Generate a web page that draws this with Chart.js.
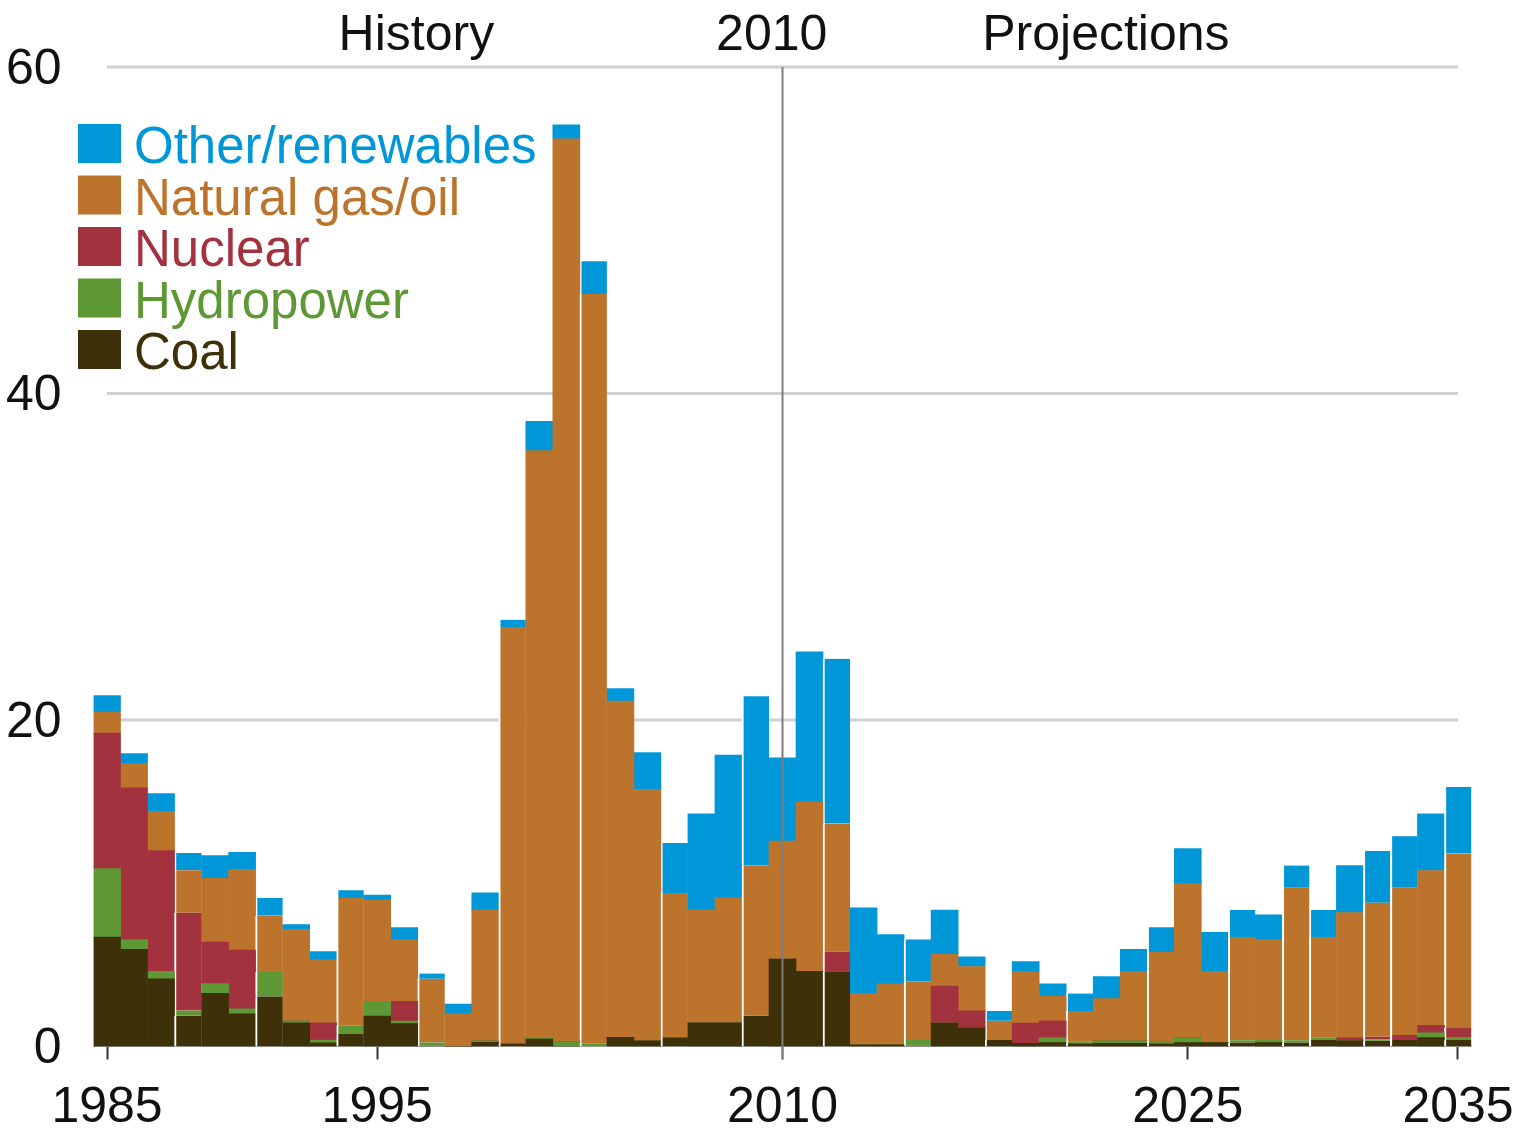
<!DOCTYPE html>
<html>
<head>
<meta charset="utf-8">
<script src="https://cdn.jsdelivr.net/npm/chart.js@4"></script>
<style>
    html, body { margin: 0; padding: 0; background: #fff; }
    #wrap { width: 1517px; height: 1128px; position: relative; }
</style>
</head>
<body>
<div id="wrap"><canvas id="chart"></canvas></div>
<script>
// capacity additions by fuel, 1985-2035 (history + projections)
const years = [];
for (let y = 1985; y <= 2035; y++) years.push(String(y));

const tickYears = ['1985', '1995', '2010', '2025', '2035'];

const coal = [6.7, 5.95, 4.15, 1.9, 3.25, 2.0, 3.07, 1.45, 0.23, 0.8,
    1.87, 1.4, 0.05, 0, 0.25, 0.2, 0.45, 0, 0, 0.56,
    0.35, 0.56, 1.45, 1.45, 1.88, 5.36, 4.61, 4.61, 0.1, 0.1,
    0.05, 1.43, 1.15, 0.4, 0.2, 0.24, 0.2, 0.2, 0.2, 0.2,
    0.24, 0.24, 0.24, 0.24, 0.24, 0.4, 0.35, 0.35, 0.4, 0.54,
    0.4];
const hydro = [4.2, 0.6, 0.45, 0.3, 0.6, 0.3, 1.5, 0.12, 0.17, 0.5,
    0.9, 0.16, 0.2, 0, 0.1, 0, 0.1, 0.3, 0.2, 0,
    0, 0, 0, 0, 0, 0, 0, 0, 0, 0,
    0.35, 0, 0, 0, 0, 0.3, 0.12, 0.14, 0.14, 0.14,
    0.3, 0, 0.14, 0.14, 0.14, 0.14, 0, 0.1, 0, 0.3,
    0.14];
const nuclear = [8.3, 9.3, 7.4, 6.0, 2.55, 3.6, 0, 0, 1.05, 0,
    0, 1.2, 0, 0, 0, 0, 0, 0, 0, 0,
    0, 0, 0, 0, 0, 0, 0, 1.2, 0, 0,
    0, 2.27, 1.03, 0, 1.23, 1.03, 0, 0, 0, 0,
    0, 0, 0, 0, 0, 0, 0.2, 0.15, 0.3, 0.45,
    0.6];
const gasOil = [1.3, 1.5, 2.4, 2.6, 3.9, 4.95, 3.45, 5.6, 3.87, 7.8,
    6.2, 3.8, 3.9, 2.0, 8.0, 25.5, 35.95, 55.3, 45.9, 20.6,
    15.4, 8.84, 6.91, 7.66, 9.2, 7.22, 10.38, 7.85, 3.14, 3.74,
    3.6, 1.95, 2.72, 1.17, 3.16, 1.52, 1.86, 2.59, 4.25, 5.45,
    9.46, 4.35, 6.32, 6.18, 9.34, 6.16, 7.66, 8.21, 9.02, 9.49,
    10.68];
const other = [1.0, 0.6, 1.1, 1.05, 1.4, 1.05, 1.07, 0.3, 0.5, 0.47,
    0.3, 0.73, 0.32, 0.6, 1.06, 0.44, 1.8, 0.85, 2.0, 0.77,
    2.26, 3.06, 5.89, 8.74, 10.38, 5.11, 9.19, 10.09, 5.26, 3.02,
    2.56, 2.71, 0.6, 0.61, 0.61, 0.75, 1.06, 1.36, 1.36, 1.52,
    2.12, 2.41, 1.66, 1.5, 1.36, 1.66, 2.88, 3.16, 3.16, 3.47,
    4.07];

// thin white seams that show between some of the bars
const gapYears = ['1988', '1991', '1994', '1997', '2000', '2003', '2006', '2009',
    '2012', '2015', '2018', '2021', '2024', '2027', '2029', '2030', '2032', '2033', '2035'];

const FONT = "'Liberation Sans', Arial, sans-serif";

const seamWidth = (ctx) => gapYears.includes(years[ctx.dataIndex])
    ? { left: 2, right: 0, top: 0, bottom: 0 } : 0;

function series(label, data, color) {
    return {
        label: label,
        data: data,
        backgroundColor: color,
        borderColor: '#ffffff',
        borderWidth: seamWidth,
        borderSkipped: false,
        barPercentage: 1,
        categoryPercentage: 1
    };
}

const datasets = [
    series('Coal', coal, '#3e3008'),
    series('Hydropower', hydro, '#5e9834'),
    series('Nuclear', nuclear, '#a3323f'),
    series('Natural gas/oil', gasOil, '#bc742c'),
    series('Other/renewables', other, '#0097d8')
];

// gridlines span first to last year only, plus the 2010 divider
const backdrop = {
    id: 'backdrop',
    beforeDatasetsDraw(chart) {
        const { ctx, scales: { x, y } } = chart;
        const x0 = x.getPixelForValue(0);
        const x1 = x.getPixelForValue(years.length - 1);
        ctx.save();
        ctx.strokeStyle = '#d0d0d0';
        ctx.lineWidth = 3;
        [20, 40, 60].forEach(v => {
            const py = y.getPixelForValue(v);
            ctx.beginPath();
            ctx.moveTo(x0, py);
            ctx.lineTo(x1, py);
            ctx.stroke();
        });
        ctx.restore();
    },
    afterDatasetsDraw(chart) {
        const { ctx, scales: { x, y } } = chart;
        const px = x.getPixelForValue(years.indexOf('2010'));
        ctx.save();
        ctx.strokeStyle = '#7d7d7d';
        ctx.lineWidth = 2;
        ctx.beginPath();
        ctx.moveTo(px, y.getPixelForValue(60));
        ctx.lineTo(px, y.getPixelForValue(0) + 13);
        ctx.stroke();
        ctx.restore();
    }
};

// top captions and the in-plot legend
const annotations = {
    id: 'annotations',
    afterDraw(chart) {
        const { ctx, scales: { x } } = chart;
        ctx.save();
        ctx.font = '50px ' + FONT;
        ctx.fillStyle = '#111';
        ctx.textAlign = 'center';
        ctx.textBaseline = 'alphabetic';
        ctx.fillText('History', x.getPixelForValue(11.45), 50);
        ctx.fillText('2010', x.getPixelForValue(24.6), 50);
        ctx.fillText('Projections', x.getPixelForValue(36.97), 50);

        ctx.textAlign = 'left';
        ctx.font = '51px ' + FONT;
        const items = datasets.slice().reverse();
        items.forEach((ds, i) => {
            const top = 124 + i * 51.5;
            ctx.fillStyle = ds.backgroundColor;
            ctx.fillRect(78, top, 43, 39);
            ctx.fillText(ds.label, 134, top + 39);
        });
        ctx.restore();
    }
};

new Chart(document.getElementById('chart'), {
    type: 'bar',
    data: { labels: years, datasets: datasets },
    options: {
        responsive: true,
        maintainAspectRatio: false,
        animation: false,
        layout: { padding: { top: 67, right: 45.5, bottom: 0, left: 0 } },
        plugins: {
            legend: { display: false },
            tooltip: { enabled: false }
        },
        scales: {
            x: {
                stacked: true,
                grid: {
                    display: true,
                    offset: false,
                    drawOnChartArea: false,
                    drawTicks: true,
                    tickLength: 13,
                    tickWidth: 2,
                    tickColor: (ctx) => {
                        const yr = years[ctx.index];
                        if (yr === '2010') return '#7d7d7d';
                        return tickYears.includes(yr) ? '#333' : 'rgba(0,0,0,0)';
                    }
                },
                border: { display: true, color: '#a0a0a0', width: 1 },
                ticks: {
                    autoSkip: false,
                    maxRotation: 0,
                    minRotation: 0,
                    padding: 19,
                    color: '#111',
                    font: { family: FONT, size: 50 },
                    callback: (val, i) => tickYears.includes(years[i]) ? years[i] : ''
                },
                afterFit: (scale) => {
                    scale.height = 81.5;
                    scale.paddingLeft = 0;
                    scale.paddingRight = 0;
                }
            },
            y: {
                stacked: true,
                min: 0,
                max: 60,
                grid: { display: false },
                border: { display: false },
                ticks: {
                    stepSize: 20,
                    padding: 24,
                    labelOffset: 3,
                    color: '#111',
                    font: { family: FONT, size: 50 }
                },
                afterFit: (scale) => { scale.width = 93.5; }
            }
        }
    },
    plugins: [backdrop, annotations]
});
</script>
</body>
</html>
